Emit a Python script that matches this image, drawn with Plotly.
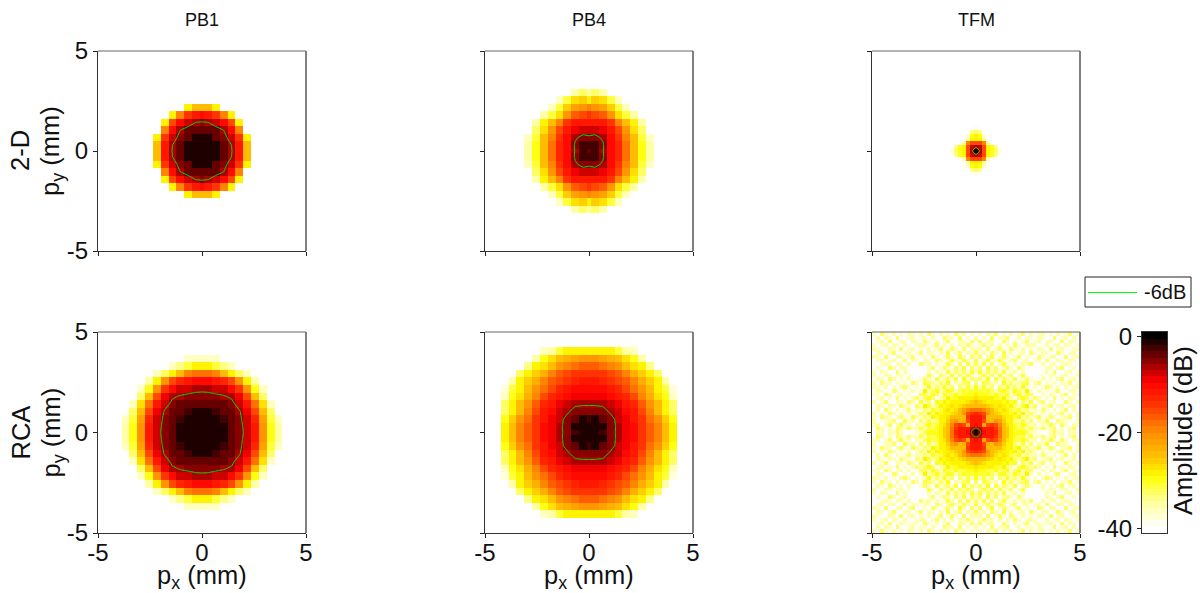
import numpy as np
import plotly.graph_objects as go

W = -41
# quadrant values in dB: row = distance from centre in y, col = distance in x
pb1_2d = [
 [-1,-1,-1.2,-3.8,-5.6,-12,-25],
 [-1,-1,-1.3,-4,-6,-12,-25],
 [-1.2,-1.3,-3.2,-4.5,-8,-14,-29],
 [-3.8,-4,-4.2,-6,-10,-19],
 [-5.5,-5.8,-8,-10,-16,-29],
 [-10,-11,-14,-19,-29],
 [-25,-25,-29],
]
pb4_2d = [
 [-3.8,-2.8,-5.7,-10,-13,-18,-24,-30,-35],
 [-2.8,-2,-5.5,-10,-13,-18,-24,-30,-35],
 [-5.5,-5,-6.5,-10,-13.5,-19,-25,-31,-36],
 [-7.5,-7.5,-9.5,-11,-15,-21,-27,-32],
 [-11,-11,-12,-14,-19,-25,-29,-35],
 [-14.5,-15,-17,-21,-27,-31,-35],
 [-20,-21,-22,-26,-31,-36],
 [-28,-26,-27,-31,-36],
 [-35,-33,-35],
]
tfm_2d = [
 [-0.5,-6,-16,-28,-30,-33,-38],
 [-6,-8,-16,-28,-30,-34],
 [-16,-16,-20,-35],
 [-28,-28,-35],
 [-29,-30,-36],
 [-32,-34],
 [-38],
]
pb1_rca = [
 [-1,-1,-1,-1.2,-3,-5,-7,-12,-21,-30,-35],
 [-1,-1,-1,-1.3,-3.1,-5.1,-7.2,-12,-21,-30,-35],
 [-1,-1,-1.3,-2,-3.3,-5.3,-7.8,-13,-22,-31,-36],
 [-1.2,-1.3,-2,-3,-3.8,-5.6,-9,-15,-25,-33],
 [-3,-3.1,-3.3,-3.8,-5,-7.5,-11,-18,-27,-36],
 [-5.3,-5.3,-5.5,-5.7,-6.5,-9.5,-15,-25,-33],
 [-6.5,-6.6,-7,-8,-10,-14,-21,-30,-36],
 [-10,-10,-11,-12.5,-15,-21,-28,-35],
 [-18,-18,-19,-24,-29,-33,-36],
 [-29,-29,-31,-34,-36],
 [-36,-36,-36],
]
pb4_rca = [
 [-1.4,-1,-1.8,-5,-6.7,-9,-10.5,-14,-17,-20,-25,-29],
 [-1,-1,-1.6,-4.8,-6.7,-9,-10.5,-14,-17,-20,-25,-29],
 [-1.8,-1.6,-3.5,-5,-7,-9.5,-11,-14.5,-17.5,-20.5,-25.5,-29.5],
 [-4.5,-4.5,-4.8,-6.5,-8,-10,-12,-16,-20,-24,-28,-32],
 [-6.4,-6.4,-6.6,-8,-9.5,-11,-13,-17,-21,-25,-29,-33],
 [-9,-9,-9.5,-10,-11.5,-13,-15,-19,-23,-27,-30,-36],
 [-10,-10,-10.5,-11.5,-13,-15,-18,-21,-25,-28,-31,-38],
 [-12,-12,-12.5,-13.5,-15,-17,-20,-23,-26,-29,-35],
 [-14,-14,-14.5,-15.5,-17,-20,-23,-26,-29,-33],
 [-17,-17,-18,-19,-21,-24,-27,-29,-34],
 [-21,-21,-22,-23,-25,-27,-30,-35],
 [-29,-29,-29,-29,-31,-35,-37],
]
tfm_rca = [
 [-1,-5,-10,-11,-12,-13,-18,-24,-26,-29,-30,-30,-30,-33,-35,-37,-39,-41,-41,-35,-33,-37,-35,-39,-37,-35,-39],
 [-5,-7,-11,-11,-12,-14,-18,-24,-26,-29,-30,-33,-31,-35,-31,-35,-37,-33,-37,-35,-33,-39,-37,-41,-35,-33,-39],
 [-10,-11,-22,-16,-14,-15,-20,-25,-27,-29,-31,-33,-30,-33,-37,-35,-41,-35,-37,-31,-35,-39,-33,-37,-41,-35,-37],
 [-11,-11,-16,-23,-24,-21,-22,-26,-28,-29,-33,-35,-31,-37,-33,-39,-35,-37,-31,-39,-41,-33,-35,-37,-39,-41,-35],
 [-12,-12,-14,-24,-25,-25,-25,-27,-29,-29,-31,-29,-35,-33,-37,-35,-31,-39,-37,-33,-35,-41,-37,-35,-33,-39,-37],
 [-13,-14,-15,-21,-25,-26,-27,-28,-29,-30,-29,-33,-29,-35,-33,-37,-41,-35,-39,-37,-41,-35,-33,-39,-37,-41,-35],
 [-18,-18,-20,-22,-25,-27,-28,-27,-29,-31,-33,-30,-35,-33,-37,-35,-39,-33,-37,-41,-35,-41,-37,-33,-41,-35,-39],
 [-24,-25,-25,-26,-27,-28,-27,-29,-30,-29,-33,-35,-31,-29,-35,-33,-41,-37,-35,-33,-41,-37,-35,-39,-37,-35,-41],
 [-25,-26,-27,-28,-29,-29,-29,-30,-29,-31,-30,-39,-33,-35,-31,-39,-35,-33,-41,-37,-35,-41,-39,-33,-37,-41,-35],
 [-27,-28,-29,-29,-29,-30,-31,-29,-33,-35,-39,-33,-30,-33,-37,-33,-35,-41,-37,-41,-33,-39,-37,-41,-35,-37,-41],
 [-29,-30,-30,-31,-33,-30,-33,-33,-30,-37,-33,-30,-35,-31,-33,-39,-41,-35,-41,-35,-37,-41,-35,-33,-41,-37,-37],
 [-30,-31,-31,-30,-33,-35,-31,-30,-33,-35,-30,-33,-35,-29,-37,-41,-35,-39,-37,-41,-35,-33,-39,-41,-37,-35,-41],
 [-30,-35,-31,-35,-33,-41,-33,-35,-30,-35,-33,-37,-30,-35,-39,-37,-41,-37,-33,-35,-41,-37,-41,-35,-39,-37,-35],
 [-33,-41,-31,-33,-37,-35,-39,-30,-35,-33,-37,-35,-33,-31,-41,-35,-33,-41,-37,-39,-35,-41,-37,-37,-33,-41,-37],
 [-35,-33,-37,-30,-41,-31,-37,-33,-35,-37,-31,-41,-35,-33,-37,-41,-39,-35,-41,-37,-41,-35,-33,-41,-37,-35,-39],
 [-41,-35,-31,-35,-33,-39,-31,-37,-35,-33,-41,-37,-31,-39,-41,-41,-41,-37,-39,-35,-37,-41,-37,-35,-41,-39,-35],
 [-35,-31,-37,-33,-35,-33,-37,-31,-41,-37,-35,-39,-35,-41,-41,-41,-41,-41,-35,-41,-33,-39,-41,-37,-35,-41,-37],
 [-37,-33,-41,-31,-37,-33,-39,-35,-33,-37,-41,-33,-37,-41,-41,-41,-41,-39,-35,-37,-41,-35,-33,-41,-39,-37,-41],
 [-33,-37,-31,-39,-33,-41,-35,-31,-37,-41,-35,-39,-35,-37,-33,-39,-41,-35,-41,-37,-35,-41,-37,-35,-37,-41,-39],
 [-31,-39,-35,-31,-37,-35,-31,-37,-41,-35,-33,-41,-37,-35,-41,-37,-35,-41,-33,-39,-41,-35,-37,-41,-35,-37,-41],
 [-37,-33,-41,-35,-31,-41,-37,-33,-35,-41,-37,-33,-41,-37,-39,-41,-33,-37,-41,-35,-35,-41,-39,-33,-41,-37,-35],
 [-33,-37,-35,-41,-33,-35,-41,-31,-39,-35,-41,-37,-35,-41,-33,-37,-41,-35,-37,-41,-39,-33,-37,-41,-37,-35,-41],
 [-35,-35,-39,-33,-41,-37,-33,-37,-41,-33,-37,-41,-35,-39,-37,-41,-35,-37,-41,-33,-41,-37,-35,-39,-41,-37,-35],
 [-41,-37,-33,-37,-35,-41,-35,-41,-35,-39,-33,-37,-41,-35,-35,-37,-41,-39,-35,-41,-37,-35,-41,-35,-37,-41,-37],
 [-37,-33,-41,-35,-35,-39,-41,-33,-37,-41,-35,-41,-37,-33,-41,-37,-35,-41,-37,-35,-39,-41,-33,-41,-35,-37,-41],
 [-35,-39,-37,-41,-33,-41,-37,-35,-33,-41,-39,-35,-41,-37,-37,-41,-35,-37,-41,-39,-33,-41,-37,-35,-41,-35,-39],
 [-39,-37,-41,-35,-37,-33,-41,-37,-39,-35,-41,-37,-33,-41,-35,-39,-37,-35,-41,-37,-41,-35,-39,-37,-33,-41,-37],
]
col_titles = ["PB1", "PB4", "TFM"]
row_titles = ["2-D", "RCA"]
tick_vals = [-5, 0, 5]
tick_text = ["-5", "0", "5"]
cbar_vals = [-40, -20, 0]
cbar_text = ["-40", "-20", "0"]
contour_name = "-6dB"

FONT = "Liberation Sans, Arial, sans-serif"
FW, FH = 1200, 593
COLS = [(98, 306), (485, 693), (872, 1080)]
ROWS = [(51, 251), (332, 533)]
ZMIN, ZMAX = -41, 1
COARSE, FINE = 4.9 / 13, 4.9 / 26

ANCHORS = [(0, (0, 0, 0)), (-9.5, (255, 0, 0)), (-14, (255, 48, 0)), (-20, (255, 140, 0)), (-25, (255, 190, 0)),
           (-29.5, (255, 255, 0)), (-33, (255, 255, 110)), (-35, (255, 255, 160)), (-37, (255, 255, 200)),
           (-40, (255, 255, 255))]


def hot_color(db):
    xs = [p[0] for p in ANCHORS][::-1]
    rgb = [np.interp(db, xs, [p[1][c] for p in ANCHORS][::-1]) for c in range(3)]
    return "rgb(%d,%d,%d)" % tuple(int(round(v)) for v in rgb)


NB = 32
scale = []
for k in range(NB):
    db = ZMIN + (k + 0.35) * (ZMAX - ZMIN) / NB
    c = hot_color(db)
    scale += [[k / NB, c], [(k + 1) / NB, c]]


def unfold(q, n):
    a = np.full((n, n), float(W))
    for i, row in enumerate(q):
        a[i, :len(row)] = row
    top = np.hstack([a[:, :0:-1], a])
    return np.vstack([top[:0:-1], top])


def grid(n, pitch):
    pos = 0.1 + pitch * np.arange(n)
    edges = np.concatenate([-pos[::-1], pos])
    c = np.concatenate([[0.0], 0.1 + pitch * (np.arange(n - 1) + 0.5)])
    centres = np.concatenate([-c[:0:-1], c])
    return edges, centres


panels = [(pb1_2d, 14, COARSE), (pb4_2d, 14, COARSE), (tfm_2d, 27, FINE),
          (pb1_rca, 14, COARSE), (pb4_rca, 14, COARSE), (tfm_rca, 27, FINE)]

fig = go.Figure()
layout = {}
shapes = []
annotations = []
LABEL = 25.5
TICK = 24

for idx, (q, n, pitch) in enumerate(panels):
    r, c = idx // 3, idx % 3
    ax = idx + 1
    xn, yn = "x%d" % ax, "y%d" % ax
    z = unfold(q, n)
    edges, centres = grid(n, pitch)
    fig.add_trace(go.Heatmap(z=z, x=edges, y=edges, xaxis=xn, yaxis=yn, colorscale=scale,
                             zmin=ZMIN, zmax=ZMAX, showscale=False, hoverinfo="skip"))
    fig.add_trace(go.Contour(z=z, x=centres, y=centres, xaxis=xn, yaxis=yn, showscale=False,
                             contours=dict(start=-6, end=-6, size=1, coloring="none"),
                             line=dict(color="#00e000", width=1, smoothing=0),
                             hoverinfo="skip", showlegend=False))
    x0, x1 = COLS[c]
    y0, y1 = ROWS[r]
    common = dict(range=[-5, 5], tickmode="array", tickvals=tick_vals, ticktext=tick_text,
                  ticks="outside", ticklen=4, tickwidth=1, tickcolor="#222",
                  showgrid=False, zeroline=False, showline=True, linecolor="#333", linewidth=1,
                  tickfont=dict(family=FONT, size=TICK, color="#111"))
    layout["xaxis%d" % ax] = dict(common, domain=[x0 / FW, x1 / FW], anchor=yn, showticklabels=(r == 1),
                                  ticklabelstandoff=-6)
    layout["yaxis%d" % ax] = dict(common, domain=[1 - y1 / FH, 1 - y0 / FH], anchor=xn, showticklabels=(c == 0))
    shapes.append(dict(type="line", xref="paper", yref="paper", x0=x1 / FW, x1=x1 / FW,
                       y0=1 - y1 / FH, y1=1 - y0 / FH, line=dict(color="#808080", width=2)))
    shapes.append(dict(type="line", xref="paper", yref="paper", x0=x0 / FW, x1=x1 / FW,
                       y0=1 - y0 / FH, y1=1 - y0 / FH, line=dict(color="#666", width=1)))

# colour bar panel
levels = np.linspace(ZMIN, ZMAX, 169)
fig.add_trace(go.Heatmap(z=[[v] for v in levels], y=levels, x=[0], xaxis="x7", yaxis="y7", colorscale=scale,
                         zmin=ZMIN, zmax=ZMAX, showscale=False, hoverinfo="skip"))
layout["xaxis7"] = dict(domain=[1142 / FW, 1167 / FW], anchor="y7", range=[-0.5, 0.5], showticklabels=False,
                        ticks="", showgrid=False, zeroline=False, showline=True, linecolor="#333", mirror=True)
layout["yaxis7"] = dict(domain=[1 - 533 / FH, 1 - 332 / FH], anchor="x7", range=[ZMIN, ZMAX], tickmode="array",
                        tickvals=cbar_vals, ticktext=cbar_text, ticks="outside", ticklen=4, tickcolor="#222",
                        showgrid=False, zeroline=False, showline=True, linecolor="#333", mirror=True,
                        tickfont=dict(family=FONT, size=TICK, color="#111"))


def note(px, py, text, size, angle=0, anchor="center"):
    annotations.append(dict(x=px / FW, y=1 - py / FH, xref="paper", yref="paper", text=text, showarrow=False,
                            textangle=angle, xanchor=anchor, yanchor="middle",
                            font=dict(family=FONT, size=size, color="#111")))


for c, t in enumerate(col_titles):
    note((COLS[c][0] + COLS[c][1]) / 2, 20, t, 18)
    note((COLS[c][0] + COLS[c][1]) / 2, 577, "p<sub>x</sub> (mm)", LABEL)
for r, t in enumerate(row_titles):
    cy = (ROWS[r][0] + ROWS[r][1]) / 2
    note(20, cy, t, LABEL, -90)
    note(52, cy, "p<sub>y</sub> (mm)", LABEL, -90)
note(1183, 431, "Amplitude (dB)", LABEL, -90)

# legend box for the contour line
shapes.append(dict(type="rect", xref="paper", yref="paper", x0=1085 / FW, x1=1191 / FW, y0=1 - 307 / FH,
                   y1=1 - 277 / FH, line=dict(color="#222", width=1), fillcolor="white"))
shapes.append(dict(type="line", xref="paper", yref="paper", x0=1088 / FW, x1=1137 / FW, y0=1 - 292.5 / FH,
                   y1=1 - 292.5 / FH, line=dict(color="#00ff00", width=1)))
note(1142, 292, contour_name, 20, anchor="left")

fig.update_layout(
    width=FW, height=FH, margin=dict(l=0, r=0, t=0, b=0, autoexpand=False), showlegend=False,
    paper_bgcolor="white", plot_bgcolor="white", shapes=shapes, annotations=annotations,
    **layout,
)
fig.write_html("out.html", post_script="document.body.style.margin='0';",
               config=dict(displayModeBar=False))
